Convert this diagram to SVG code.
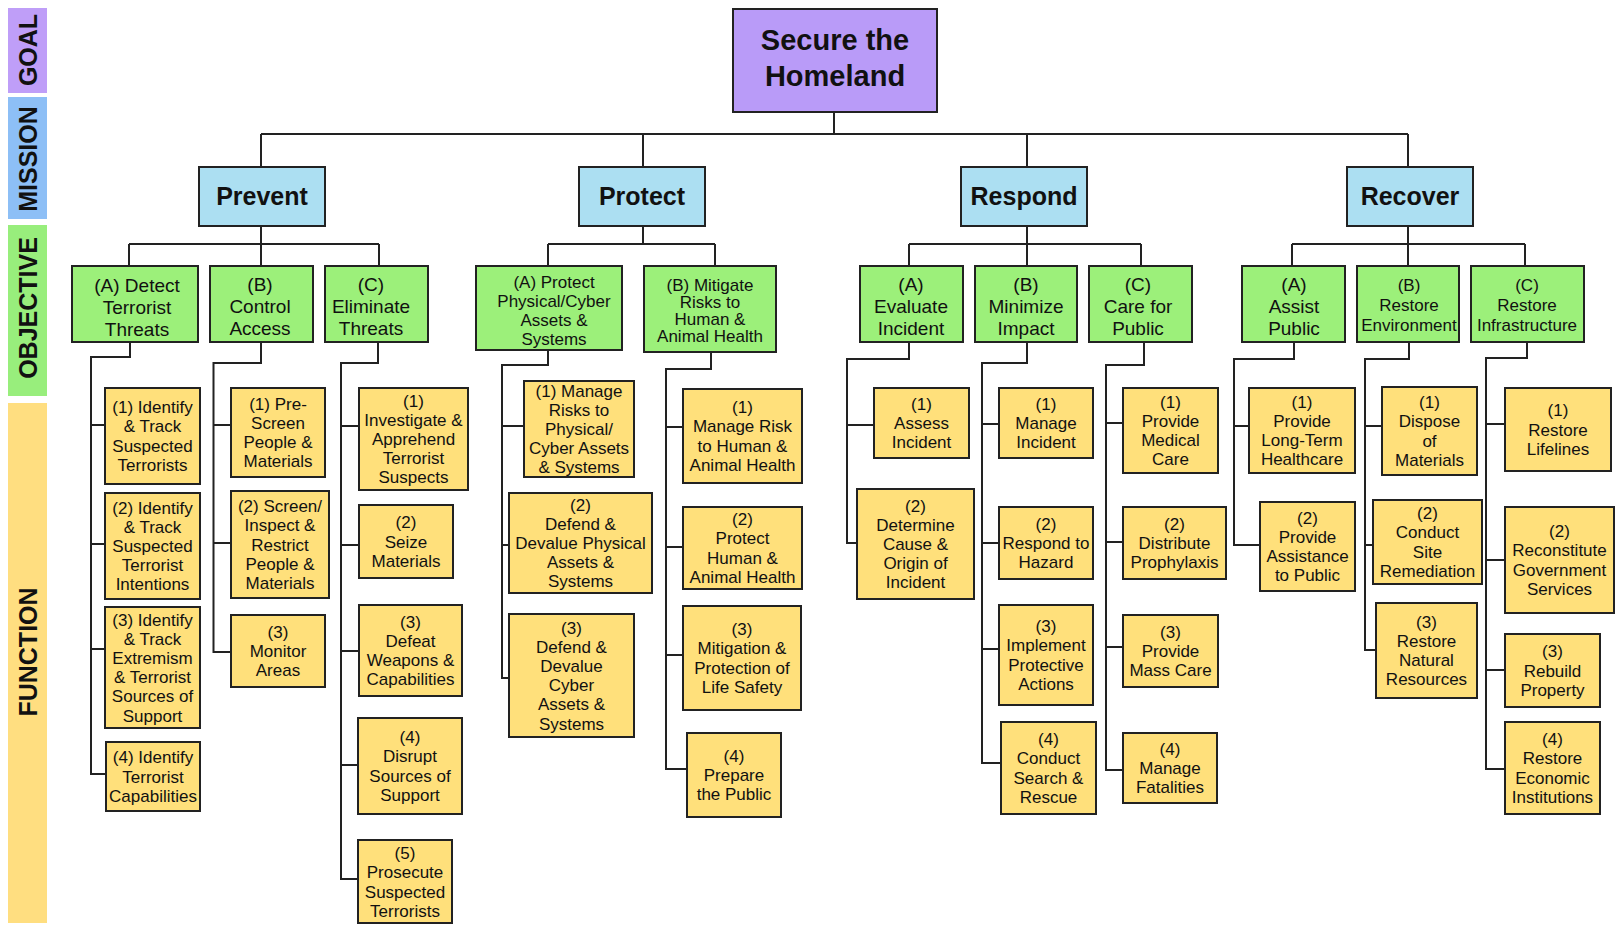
<svg xmlns="http://www.w3.org/2000/svg" width="1616" height="926" viewBox="0 0 1616 926">
<style>
.bx{stroke:#222;stroke-width:2}
.goal{fill:#b99bf8}
.mis{fill:#acdff2}
.obj{fill:#9cf07a}
.fun{fill:#ffe07b}
.t{font-family:"Liberation Sans",Arial,sans-serif;text-anchor:middle;fill:#111}
.tf{font-size:17px}
.to{font-size:19px}
.tb{font-weight:bold}
.side{font-family:"Liberation Sans",Arial,sans-serif;font-weight:bold;font-size:25px;text-anchor:middle;fill:#111}
.c{fill:none;stroke:#222;stroke-width:2}
</style>
<g id="sidebars">
<rect x="8" y="8" width="39" height="85" fill="#bf9ef8"/>
<rect x="8" y="97" width="39" height="122" fill="#8dbff6"/>
<rect x="8" y="225" width="39" height="171" fill="#98ee7c"/>
<rect x="8" y="403" width="39" height="520" fill="#ffde80"/>
<text class="side" transform="translate(28,50) rotate(-90)" y="9">GOAL</text>
<text class="side" transform="translate(28,159) rotate(-90)" y="9">MISSION</text>
<text class="side" transform="translate(28,308) rotate(-90)" y="9">OBJECTIVE</text>
<text class="side" transform="translate(28,652) rotate(-90)" y="9">FUNCTION</text>
</g>
<g id="connectors">
<path class="c" d="M834 112V134M261 134H1408M261 134V167M643 134V167M1027 134V167M1408 134V167"/>
<path class="c" d="M261 226V266M129 244H379M129 244V266M379 244V266"/>
<path class="c" d="M643 226V244M548 244H715M548 244V266M715 244V266"/>
<path class="c" d="M1027 226V266M909 244H1141M909 244V266M1141 244V266"/>
<path class="c" d="M1408 226V266M1292 244H1525M1292 244V266M1525 244V266"/>
<path class="c" d="M130 342V357H91V774H105M91 425H105M91 544H105M91 649H105"/>
<path class="c" d="M261 342V363H213.5V652H231M213.5 425H231M213.5 543H231"/>
<path class="c" d="M378 342V363H341V879H358M341 426H359M341 545H359M341 651H359M341 765H358"/>
<path class="c" d="M548 350V365H502V678H509M502 426H524M502 545H509"/>
<path class="c" d="M711 352V369H666V769H687M666 427H683M666 547H683M666 655H683"/>
<path class="c" d="M909 342V359H847V543H857M847 425H874"/>
<path class="c" d="M1027 342V363H982V763H1001M982 424H999M982 543H999M982 649H999"/>
<path class="c" d="M1144 342V365H1106V770H1123M1106 423H1123M1106 542H1123M1106 647H1123"/>
<path class="c" d="M1294 342V359H1234V545H1260M1234 426H1249"/>
<path class="c" d="M1409 342V359H1365V650H1376M1365 426H1382M1365 545H1373"/>
<path class="c" d="M1527 342V358H1486V769H1505M1486 424H1505M1486 560H1505M1486 670H1505"/>
</g>
<g id="goal"><rect class="bx goal" x="733" y="9" width="204" height="103"/>
<text class="t tb" style="font-size:29px" x="835" y="50">Secure the</text><text class="t tb" style="font-size:29px" x="835" y="86">Homeland</text></g>
<g id="m-prevent"><rect class="bx mis" x="199" y="167" width="126" height="59"/><text class="t tb" style="font-size:25px" x="262" y="205">Prevent</text></g>
<g id="m-protect"><rect class="bx mis" x="579" y="167" width="126" height="59"/><text class="t tb" style="font-size:25px" x="642" y="205">Protect</text></g>
<g id="m-respond"><rect class="bx mis" x="961" y="167" width="126" height="59"/><text class="t tb" style="font-size:25px" x="1024" y="205">Respond</text></g>
<g id="m-recover"><rect class="bx mis" x="1347" y="167" width="126" height="59"/><text class="t tb" style="font-size:25px" x="1410" y="205">Recover</text></g>

<g id="o-prevent-a"><rect class="bx obj" x="72" y="266" width="126" height="76"/><text class="t to" y="292"><tspan x="137">(A) Detect</tspan><tspan x="137" dy="22">Terrorist</tspan><tspan x="137" dy="22">Threats</tspan></text></g>
<g id="o-prevent-b"><rect class="bx obj" x="210" y="266" width="103" height="76"/><text class="t to" y="291"><tspan x="260">(B)</tspan><tspan x="260" dy="22">Control</tspan><tspan x="260" dy="22">Access</tspan></text></g>
<g id="o-prevent-c"><rect class="bx obj" x="325" y="266" width="103" height="76"/><text class="t to" y="291"><tspan x="371">(C)</tspan><tspan x="371" dy="22">Eliminate</tspan><tspan x="371" dy="22">Threats</tspan></text></g>
<g id="o-protect-a"><rect class="bx obj" x="476" y="266" width="146" height="84"/><text class="t tf" y="288"><tspan x="554">(A) Protect</tspan><tspan x="554" dy="19">Physical/Cyber</tspan><tspan x="554" dy="19">Assets &amp;</tspan><tspan x="554" dy="19">Systems</tspan></text></g>
<g id="o-protect-b"><rect class="bx obj" x="644" y="266" width="132" height="86"/><text class="t tf" y="291"><tspan x="710">(B) Mitigate</tspan><tspan x="710" dy="17">Risks to</tspan><tspan x="710" dy="17">Human &amp;</tspan><tspan x="710" dy="17">Animal Health</tspan></text></g>
<g id="o-respond-a"><rect class="bx obj" x="860" y="266" width="103" height="76"/><text class="t to" y="291"><tspan x="911">(A)</tspan><tspan x="911" dy="22">Evaluate</tspan><tspan x="911" dy="22">Incident</tspan></text></g>
<g id="o-respond-b"><rect class="bx obj" x="975" y="266" width="102" height="76"/><text class="t to" y="291"><tspan x="1026">(B)</tspan><tspan x="1026" dy="22">Minimize</tspan><tspan x="1026" dy="22">Impact</tspan></text></g>
<g id="o-respond-c"><rect class="bx obj" x="1089" y="266" width="103" height="76"/><text class="t to" y="291"><tspan x="1138">(C)</tspan><tspan x="1138" dy="22">Care for</tspan><tspan x="1138" dy="22">Public</tspan></text></g>
<g id="o-recover-a"><rect class="bx obj" x="1242" y="266" width="103" height="76"/><text class="t to" y="291"><tspan x="1294">(A)</tspan><tspan x="1294" dy="22">Assist</tspan><tspan x="1294" dy="22">Public</tspan></text></g>
<g id="o-recover-b"><rect class="bx obj" x="1357" y="266" width="102" height="76"/><text class="t tf" y="291"><tspan x="1409">(B)</tspan><tspan x="1409" dy="20">Restore</tspan><tspan x="1409" dy="20">Environment</tspan></text></g>
<g id="o-recover-c"><rect class="bx obj" x="1471" y="266" width="113" height="76"/><text class="t tf" y="291"><tspan x="1527">(C)</tspan><tspan x="1527" dy="20">Restore</tspan><tspan x="1527" dy="20">Infrastructure</tspan></text></g>

<g id="f-pa1"><rect class="bx fun" x="105" y="388" width="95" height="96"/><text class="t tf" y="413.2"><tspan x="152.5">(1) Identify</tspan><tspan x="152.5" dy="19.2">&amp; Track</tspan><tspan x="152.5" dy="19.2">Suspected</tspan><tspan x="152.5" dy="19.2">Terrorists</tspan></text></g>
<g id="f-pa2"><rect class="bx fun" x="105" y="493" width="95" height="106"/><text class="t tf" y="513.6"><tspan x="152.5">(2) Identify</tspan><tspan x="152.5" dy="19.2">&amp; Track</tspan><tspan x="152.5" dy="19.2">Suspected</tspan><tspan x="152.5" dy="19.2">Terrorist</tspan><tspan x="152.5" dy="19.2">Intentions</tspan></text></g>
<g id="f-pa3"><rect class="bx fun" x="105" y="607" width="95" height="121"/><text class="t tf" y="625.5"><tspan x="152.5">(3) Identify</tspan><tspan x="152.5" dy="19.2">&amp; Track</tspan><tspan x="152.5" dy="19.2">Extremism</tspan><tspan x="152.5" dy="19.2">&amp; Terrorist</tspan><tspan x="152.5" dy="19.2">Sources of</tspan><tspan x="152.5" dy="19.2">Support</tspan></text></g>
<g id="f-pa4"><rect class="bx fun" x="106" y="742" width="94" height="69"/><text class="t tf" y="763.3"><tspan x="153">(4) Identify</tspan><tspan x="153" dy="19.2">Terrorist</tspan><tspan x="153" dy="19.2">Capabilities</tspan></text></g>

<g id="f-pb1"><rect class="bx fun" x="231" y="388" width="94" height="89"/><text class="t tf" y="409.7"><tspan x="278">(1) Pre-</tspan><tspan x="278" dy="19.2">Screen</tspan><tspan x="278" dy="19.2">People &amp;</tspan><tspan x="278" dy="19.2">Materials</tspan></text></g>
<g id="f-pb2"><rect class="bx fun" x="231" y="491" width="98" height="107"/><text class="t tf" y="512.1"><tspan x="280">(2) Screen/</tspan><tspan x="280" dy="19.2">Inspect &amp;</tspan><tspan x="280" dy="19.2">Restrict</tspan><tspan x="280" dy="19.2">People &amp;</tspan><tspan x="280" dy="19.2">Materials</tspan></text></g>
<g id="f-pb3"><rect class="bx fun" x="231" y="615" width="94" height="72"/><text class="t tf" y="637.8"><tspan x="278">(3)</tspan><tspan x="278" dy="19.2">Monitor</tspan><tspan x="278" dy="19.2">Areas</tspan></text></g>

<g id="f-pc1"><rect class="bx fun" x="359" y="388" width="109" height="102"/><text class="t tf" y="406.6"><tspan x="413.5">(1)</tspan><tspan x="413.5" dy="19.2">Investigate &amp;</tspan><tspan x="413.5" dy="19.2">Apprehend</tspan><tspan x="413.5" dy="19.2">Terrorist</tspan><tspan x="413.5" dy="19.2">Suspects</tspan></text></g>
<g id="f-pc2"><rect class="bx fun" x="359" y="505" width="94" height="73"/><text class="t tf" y="528.3"><tspan x="406">(2)</tspan><tspan x="406" dy="19.2">Seize</tspan><tspan x="406" dy="19.2">Materials</tspan></text></g>
<g id="f-pc3"><rect class="bx fun" x="359" y="605" width="103" height="91"/><text class="t tf" y="627.7"><tspan x="410.5">(3)</tspan><tspan x="410.5" dy="19.2">Defeat</tspan><tspan x="410.5" dy="19.2">Weapons &amp;</tspan><tspan x="410.5" dy="19.2">Capabilities</tspan></text></g>
<g id="f-pc4"><rect class="bx fun" x="358" y="718" width="104" height="96"/><text class="t tf" y="743.2"><tspan x="410">(4)</tspan><tspan x="410" dy="19.2">Disrupt</tspan><tspan x="410" dy="19.2">Sources of</tspan><tspan x="410" dy="19.2">Support</tspan></text></g>
<g id="f-pc5"><rect class="bx fun" x="358" y="840" width="94" height="83"/><text class="t tf" y="859.2"><tspan x="405">(5)</tspan><tspan x="405" dy="19.2">Prosecute</tspan><tspan x="405" dy="19.2">Suspected</tspan><tspan x="405" dy="19.2">Terrorists</tspan></text></g>

<g id="f-ta1"><rect class="bx fun" x="524" y="381" width="110" height="96"/><text class="t tf" y="396.6"><tspan x="579">(1) Manage</tspan><tspan x="579" dy="19.2">Risks to</tspan><tspan x="579" dy="19.2">Physical/</tspan><tspan x="579" dy="19.2">Cyber Assets</tspan><tspan x="579" dy="19.2">&amp; Systems</tspan></text></g>
<g id="f-ta2"><rect class="bx fun" x="509" y="493" width="143" height="100"/><text class="t tf" y="510.6"><tspan x="580.5">(2)</tspan><tspan x="580.5" dy="19.2">Defend &amp;</tspan><tspan x="580.5" dy="19.2">Devalue Physical</tspan><tspan x="580.5" dy="19.2">Assets &amp;</tspan><tspan x="580.5" dy="19.2">Systems</tspan></text></g>
<g id="f-ta3"><rect class="bx fun" x="509" y="614" width="125" height="123"/><text class="t tf" y="633.5"><tspan x="571.5">(3)</tspan><tspan x="571.5" dy="19.2">Defend &amp;</tspan><tspan x="571.5" dy="19.2">Devalue</tspan><tspan x="571.5" dy="19.2">Cyber</tspan><tspan x="571.5" dy="19.2">Assets &amp;</tspan><tspan x="571.5" dy="19.2">Systems</tspan></text></g>

<g id="f-tb1"><rect class="bx fun" x="683" y="389" width="119" height="94"/><text class="t tf" y="413.2"><tspan x="742.5">(1)</tspan><tspan x="742.5" dy="19.2">Manage Risk</tspan><tspan x="742.5" dy="19.2">to Human &amp;</tspan><tspan x="742.5" dy="19.2">Animal Health</tspan></text></g>
<g id="f-tb2"><rect class="bx fun" x="683" y="507" width="119" height="82"/><text class="t tf" y="525.2"><tspan x="742.5">(2)</tspan><tspan x="742.5" dy="19.2">Protect</tspan><tspan x="742.5" dy="19.2">Human &amp;</tspan><tspan x="742.5" dy="19.2">Animal Health</tspan></text></g>
<g id="f-tb3"><rect class="bx fun" x="683" y="606" width="118" height="104"/><text class="t tf" y="635.2"><tspan x="742">(3)</tspan><tspan x="742" dy="19.2">Mitigation &amp;</tspan><tspan x="742" dy="19.2">Protection of</tspan><tspan x="742" dy="19.2">Life Safety</tspan></text></g>
<g id="f-tb4"><rect class="bx fun" x="687" y="733" width="94" height="84"/><text class="t tf" y="761.8"><tspan x="734">(4)</tspan><tspan x="734" dy="19.2">Prepare</tspan><tspan x="734" dy="19.2">the Public</tspan></text></g>

<g id="f-ra1"><rect class="bx fun" x="874" y="388" width="95" height="70"/><text class="t tf" y="409.8"><tspan x="921.5">(1)</tspan><tspan x="921.5" dy="19.2">Assess</tspan><tspan x="921.5" dy="19.2">Incident</tspan></text></g>
<g id="f-ra2"><rect class="bx fun" x="857" y="489" width="117" height="110"/><text class="t tf" y="511.6"><tspan x="915.5">(2)</tspan><tspan x="915.5" dy="19.2">Determine</tspan><tspan x="915.5" dy="19.2">Cause &amp;</tspan><tspan x="915.5" dy="19.2">Origin of</tspan><tspan x="915.5" dy="19.2">Incident</tspan></text></g>

<g id="f-rb1"><rect class="bx fun" x="999" y="388" width="94" height="70"/><text class="t tf" y="409.8"><tspan x="1046">(1)</tspan><tspan x="1046" dy="19.2">Manage</tspan><tspan x="1046" dy="19.2">Incident</tspan></text></g>
<g id="f-rb2"><rect class="bx fun" x="999" y="507" width="94" height="72"/><text class="t tf" y="529.8"><tspan x="1046">(2)</tspan><tspan x="1046" dy="19.2">Respond to</tspan><tspan x="1046" dy="19.2">Hazard</tspan></text></g>
<g id="f-rb3"><rect class="bx fun" x="999" y="605" width="94" height="100"/><text class="t tf" y="632.2"><tspan x="1046">(3)</tspan><tspan x="1046" dy="19.2">Implement</tspan><tspan x="1046" dy="19.2">Protective</tspan><tspan x="1046" dy="19.2">Actions</tspan></text></g>
<g id="f-rb4"><rect class="bx fun" x="1001" y="722" width="95" height="92"/><text class="t tf" y="745.2"><tspan x="1048.5">(4)</tspan><tspan x="1048.5" dy="19.2">Conduct</tspan><tspan x="1048.5" dy="19.2">Search &amp;</tspan><tspan x="1048.5" dy="19.2">Rescue</tspan></text></g>

<g id="f-rc1"><rect class="bx fun" x="1123" y="388" width="95" height="85"/><text class="t tf" y="407.7"><tspan x="1170.5">(1)</tspan><tspan x="1170.5" dy="19.2">Provide</tspan><tspan x="1170.5" dy="19.2">Medical</tspan><tspan x="1170.5" dy="19.2">Care</tspan></text></g>
<g id="f-rc2"><rect class="bx fun" x="1123" y="507" width="103" height="72"/><text class="t tf" y="529.8"><tspan x="1174.5">(2)</tspan><tspan x="1174.5" dy="19.2">Distribute</tspan><tspan x="1174.5" dy="19.2">Prophylaxis</tspan></text></g>
<g id="f-rc3"><rect class="bx fun" x="1123" y="615" width="95" height="72"/><text class="t tf" y="637.8"><tspan x="1170.5">(3)</tspan><tspan x="1170.5" dy="19.2">Provide</tspan><tspan x="1170.5" dy="19.2">Mass Care</tspan></text></g>
<g id="f-rc4"><rect class="bx fun" x="1123" y="733" width="94" height="70"/><text class="t tf" y="754.8"><tspan x="1170">(4)</tspan><tspan x="1170" dy="19.2">Manage</tspan><tspan x="1170" dy="19.2">Fatalities</tspan></text></g>

<g id="f-va1"><rect class="bx fun" x="1249" y="388" width="106" height="85"/><text class="t tf" y="407.7"><tspan x="1302">(1)</tspan><tspan x="1302" dy="19.2">Provide</tspan><tspan x="1302" dy="19.2">Long-Term</tspan><tspan x="1302" dy="19.2">Healthcare</tspan></text></g>
<g id="f-va2"><rect class="bx fun" x="1260" y="502" width="95" height="89"/><text class="t tf" y="523.7"><tspan x="1307.5">(2)</tspan><tspan x="1307.5" dy="19.2">Provide</tspan><tspan x="1307.5" dy="19.2">Assistance</tspan><tspan x="1307.5" dy="19.2">to Public</tspan></text></g>

<g id="f-vb1"><rect class="bx fun" x="1382" y="387" width="95" height="88"/><text class="t tf" y="408.2"><tspan x="1429.5">(1)</tspan><tspan x="1429.5" dy="19.2">Dispose</tspan><tspan x="1429.5" dy="19.2">of</tspan><tspan x="1429.5" dy="19.2">Materials</tspan></text></g>
<g id="f-vb2"><rect class="bx fun" x="1373" y="500" width="109" height="84"/><text class="t tf" y="519.2"><tspan x="1427.5">(2)</tspan><tspan x="1427.5" dy="19.2">Conduct</tspan><tspan x="1427.5" dy="19.2">Site</tspan><tspan x="1427.5" dy="19.2">Remediation</tspan></text></g>
<g id="f-vb3"><rect class="bx fun" x="1376" y="603" width="101" height="95"/><text class="t tf" y="627.7"><tspan x="1426.5">(3)</tspan><tspan x="1426.5" dy="19.2">Restore</tspan><tspan x="1426.5" dy="19.2">Natural</tspan><tspan x="1426.5" dy="19.2">Resources</tspan></text></g>

<g id="f-vc1"><rect class="bx fun" x="1505" y="388" width="106" height="83"/><text class="t tf" y="416.3"><tspan x="1558">(1)</tspan><tspan x="1558" dy="19.2">Restore</tspan><tspan x="1558" dy="19.2">Lifelines</tspan></text></g>
<g id="f-vc2"><rect class="bx fun" x="1505" y="507" width="109" height="106"/><text class="t tf" y="537.2"><tspan x="1559.5">(2)</tspan><tspan x="1559.5" dy="19.2">Reconstitute</tspan><tspan x="1559.5" dy="19.2">Government</tspan><tspan x="1559.5" dy="19.2">Services</tspan></text></g>
<g id="f-vc3"><rect class="bx fun" x="1505" y="634" width="95" height="73"/><text class="t tf" y="657.3"><tspan x="1552.5">(3)</tspan><tspan x="1552.5" dy="19.2">Rebuild</tspan><tspan x="1552.5" dy="19.2">Property</tspan></text></g>
<g id="f-vc4"><rect class="bx fun" x="1505" y="722" width="95" height="92"/><text class="t tf" y="745.2"><tspan x="1552.5">(4)</tspan><tspan x="1552.5" dy="19.2">Restore</tspan><tspan x="1552.5" dy="19.2">Economic</tspan><tspan x="1552.5" dy="19.2">Institutions</tspan></text></g>
</svg>
